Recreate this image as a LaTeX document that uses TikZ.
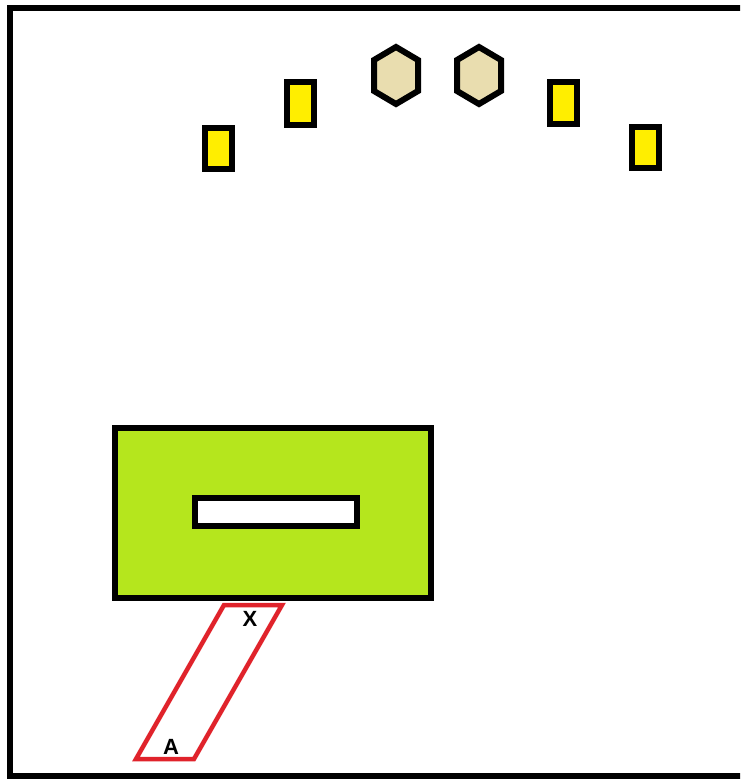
\documentclass[tikz,border=0pt]{standalone}
\usepackage{fontspec}
\setmainfont{Liberation Sans}
\begin{document}
\begin{tikzpicture}[x=1pt,y=-1pt,
  blk/.style={draw=black,line width=6pt},
  ybox/.style={blk,fill=lampy},
  hexa/.style={blk,fill=hexbeige,line join=miter},
  lbl/.style={font=\bfseries\fontsize{22}{22}\selectfont,inner sep=0pt}]
\definecolor{lampy}{HTML}{FFEE00}
\definecolor{hexbeige}{HTML}{E9DDAF}
\definecolor{limeg}{HTML}{B5E61D}
\definecolor{redl}{HTML}{E0232B}
\useasboundingbox (0,0) rectangle (740,779);
\begin{scope}
\clip (0,0) rectangle (740,779);
\draw[line width=6pt] (10,8) rectangle (760,776);
\end{scope}
% yellow lamps
\draw[ybox] (205,128) rectangle (232,169);
\draw[ybox] (287,82) rectangle (314,125);
\draw[ybox] (550,82) rectangle (577,124);
\draw[ybox] (632,127) rectangle (659,168);
% hexagons
\draw[hexa] (396,47) -- (418,60) -- (418,91) -- (396,104) -- (374,91) -- (374,60) -- cycle;
\draw[hexa] (479,47) -- (501,60) -- (501,91) -- (479,104) -- (457,91) -- (457,60) -- cycle;
% green block
\draw[blk,fill=limeg] (115,428) rectangle (431,598);
\draw[blk,line width=5.5pt,fill=white] (195,498) rectangle (357,526);
% red parallelogram
\draw[draw=redl,line width=4.5pt,line join=miter] (224,605) -- (282,605) -- (194,759) -- (136,759) -- cycle;
\node[lbl] (x) at (250,619) {X};
\node[lbl] (a) at (171,747) {A};
\end{tikzpicture}
\end{document}
